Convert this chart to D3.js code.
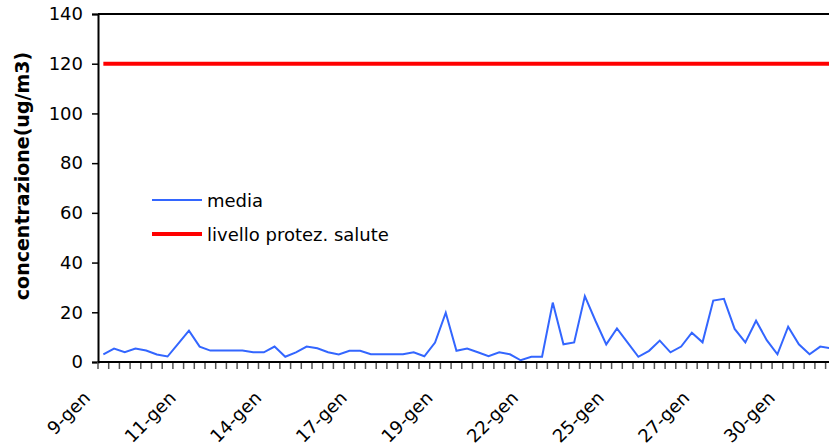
<!DOCTYPE html>
<html>
<head>
<meta charset="utf-8">
<script src="https://cdn.jsdelivr.net/npm/d3@7"></script>
<style>
  body { margin: 0; background: #fff; }
  text { font-family: "DejaVu Sans", sans-serif; }
</style>
</head>
<body>
<div id="chart"></div>
<script>
// media ogni 8 ore, dal 9-gen
const media = [
  3.1, 5.4, 3.9, 5.4, 4.6, 3.0, 2.2, 7.4, 12.6, 6.2,
  4.6, 4.6, 4.6, 4.6, 3.9, 3.9, 6.2, 2.1, 3.9, 6.2,
  5.5, 3.9, 3.0, 4.5, 4.5, 3.1, 3.1, 3.1, 3.1, 3.9,
  2.3, 7.8, 19.8, 4.5, 5.4, 3.9, 2.3, 3.9, 3.1, 0.7,
  2.1, 2.1, 23.9, 7.1, 7.9, 26.5, 16.5, 7.1, 13.5, 7.8,
  2.1, 4.5, 8.6, 3.9, 6.2, 11.8, 7.9, 24.7, 25.4, 13.3,
  7.9, 16.6, 8.8, 3.1, 14.2, 7.1, 3.1, 6.2, 5.5,
];
const livello = 120;
const tickLabels = ["9-gen", "11-gen", "14-gen", "17-gen", "19-gen", "22-gen", "25-gen", "27-gen", "30-gen"];
const labelEvery = 8;
const yTicks = [0, 20, 40, 60, 80, 100, 120, 140];

const width = 829, height = 448;
const margin = { left: 98, top: 14, bottom: 86 };
const step = 10.7;

const svg = d3.select("#chart").append("svg")
  .attr("width", width)
  .attr("height", height);

const x = d3.scaleBand()
  .domain(d3.range(media.length))
  .range([margin.left, margin.left + media.length * step]);

const y = d3.scaleLinear()
  .domain([0, 140])
  .range([height - margin.bottom, margin.top]);

const cx = (i) => x(i) + x.bandwidth() / 2;

// top frame line
svg.append("line")
  .attr("x1", margin.left).attr("x2", width)
  .attr("y1", y(140)).attr("y2", y(140))
  .attr("stroke", "#000").attr("stroke-width", 2);

// y axis
const yAxis = svg.append("g")
  .attr("transform", `translate(${margin.left},0)`)
  .call(d3.axisLeft(y).tickValues(yTicks).tickSize(6).tickPadding(9));
yAxis.select(".domain").attr("stroke", "#000").attr("stroke-width", 2);
yAxis.selectAll(".tick line").attr("stroke", "#000").attr("stroke-width", 1.5);
yAxis.selectAll(".tick text")
  .attr("font-size", 18)
  .attr("font-family", "DejaVu Sans")
  .attr("fill", "#000");

// x axis ticks at category boundaries
const xg = svg.append("g");
xg.selectAll("line.tk")
  .data(d3.range(media.length + 1))
  .join("line")
  .attr("class", "tk")
  .attr("x1", (i) => margin.left + i * step)
  .attr("x2", (i) => margin.left + i * step)
  .attr("y1", y(0))
  .attr("y2", y(0) + 7)
  .attr("stroke", "#555")
  .attr("stroke-width", 1.5);
xg.append("line")
  .attr("x1", margin.left).attr("x2", width)
  .attr("y1", y(0)).attr("y2", y(0))
  .attr("stroke", "#000").attr("stroke-width", 2);

xg.selectAll("text.lab")
  .data(tickLabels)
  .join("text")
  .attr("class", "lab")
  .attr("text-anchor", "end")
  .attr("font-size", 18)
  .attr("transform", (d, i) => `translate(${cx(i * labelEvery) - 12},${y(0) + 37}) rotate(-45)`)
  .text((d) => d);

// y title
svg.append("text")
  .attr("transform", `translate(29,${(y(0) + y(140)) / 2 - 12}) rotate(-90)`)
  .attr("text-anchor", "middle")
  .attr("font-size", 19)
  .attr("font-weight", "bold")
  .text("concentrazione(ug/m3)");

// serie
const line = d3.line().x((d, i) => cx(i)).y((d) => y(d));

svg.append("path")
  .datum(media.map(() => livello))
  .attr("d", line)
  .attr("fill", "none")
  .attr("stroke", "#ff0000")
  .attr("stroke-width", 4);

svg.append("path")
  .datum(media)
  .attr("d", line)
  .attr("fill", "none")
  .attr("stroke", "#3366ff")
  .attr("stroke-width", 2);

// legend
const legend = svg.append("g").attr("transform", "translate(152,200)");
const items = [
  { name: "media", color: "#3366ff", w: 2 },
  { name: "livello protez. salute", color: "#ff0000", w: 4 },
];
const li = legend.selectAll("g")
  .data(items)
  .join("g")
  .attr("transform", (d, i) => `translate(0,${i * 34})`);
li.append("line")
  .attr("x1", 0).attr("x2", 50)
  .attr("stroke", (d) => d.color)
  .attr("stroke-width", (d) => d.w);
li.append("text")
  .attr("x", 55)
  .attr("y", 6.5)
  .attr("font-size", 18)
  .text((d) => d.name);
</script>
</body>
</html>
